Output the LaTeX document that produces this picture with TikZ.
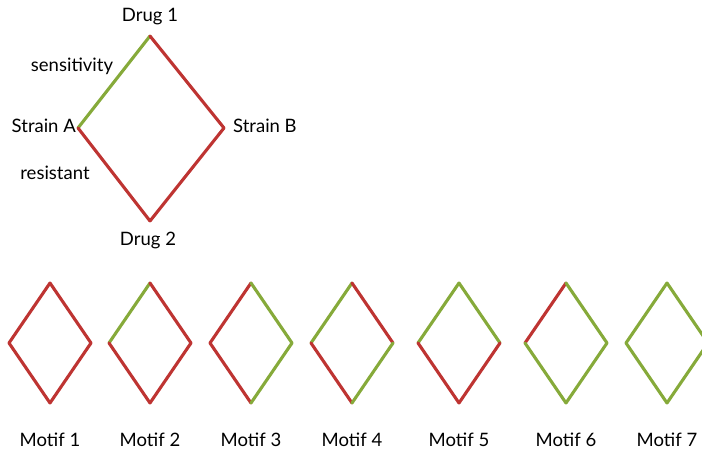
\documentclass[tikz,border=0pt]{standalone}
\usepackage{fontspec}
\setmainfont{Lato}
\begin{document}
\begin{tikzpicture}[x=1pt,y=-1pt,
  lbl/.style={inner sep=0pt,font=\fontsize{18.5}{22}\selectfont},
  edge/.style={line width=3.1pt,line cap=round,line join=round},
  res/.style={edge,draw=resred},
  sen/.style={edge,draw=sengreen}]
\definecolor{resred}{RGB}{190,52,50}
\definecolor{sengreen}{RGB}{134,170,58}
\useasboundingbox (0,0) rectangle (702,452);
\clip (0,0) rectangle (702,452);
% main diamond
\coordinate (T) at (150,36);
\coordinate (L) at (78,128);
\coordinate (R) at (224,128);
\coordinate (B) at (150,221);
\draw[sen] (L) -- (T);
\draw[res] (T) -- (R);
\draw[res] (L) -- (B);
\draw[res] (B) -- (R);
\node[lbl] (d1) at (150,17) {Drug 1};
\node[lbl] (d2) at (148,240) {Drug 2};
\node[lbl,anchor=east] (sa) at (76,126) {Strain A};
\node[lbl,anchor=west] (sb) at (233,126) {Strain B};
\node[lbl] (sens) at (72,66) {sensitivity};
\node[lbl] (resi) at (55,173) {resistant};
% motifs: top-left, top-right, bottom-left, bottom-right edge styles
\foreach \i/\cx/\tl/\tr/\bl/\br in {
  1/50/res/res/res/res,
  2/150/sen/res/res/res,
  3/251/res/sen/res/sen,
  4/352/sen/res/res/sen,
  5/459/sen/sen/res/res,
  6/566/res/sen/sen/sen,
  7/667/sen/sen/sen/sen}{
  \coordinate (m\i t) at (\cx,283);
  \coordinate (m\i l) at (\cx-41,343);
  \coordinate (m\i r) at (\cx+41,343);
  \coordinate (m\i b) at (\cx,403);
  \draw[\tl] (m\i l) -- (m\i t);
  \draw[\tr] (m\i t) -- (m\i r);
  \draw[\bl] (m\i l) -- (m\i b);
  \draw[\br] (m\i b) -- (m\i r);
  \node[lbl] (ml\i) at (\cx,440) {Motif \i};
}
\end{tikzpicture}
\end{document}
